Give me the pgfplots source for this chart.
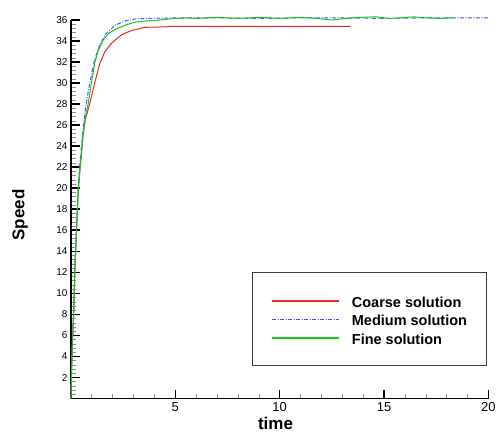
\documentclass[border=0pt]{standalone}
\usepackage{fontspec}
\setmainfont{Liberation Sans}
\usepackage{pgfplots}
\pgfplotsset{compat=1.18}
\definecolor{cred}{RGB}{235,40,40}
\definecolor{cblue}{RGB}{80,80,255}
\definecolor{cgreen}{RGB}{20,200,20}
\definecolor{lgframe}{RGB}{60,60,60}
\begin{document}
\begin{tikzpicture}
\begin{axis}[
  name=ax,
  scale only axis,
  width=418pt, height=379pt,
  xmin=0, xmax=20, ymin=0, ymax=36,
  axis lines=left,
  axis line style={line width=1.6pt,-},
  clip=false,
  tick align=inside,
  xtick={0,5,10,15,20}, xticklabels={,5,10,15,20},
  ytick={0,2,...,36},
  yticklabels={,2,4,6,8,10,12,14,16,18,20,22,24,26,28,30,32,34,36},
  minor x tick num=4, minor y tick num=4,
  major tick length=9pt, minor tick length=5pt,
  major tick style={line width=1.6pt,black},
  minor tick style={line width=0.6pt,black!45},
  /pgf/number format/assume math mode=true,
  xticklabel style={font=\fontsize{13}{13}\selectfont},
  yticklabel style={font=\fontsize{10}{10}\selectfont},
  xlabel={time}, ylabel={Speed},
  xlabel style={at={(axis description cs:0.49,-0.066)}, anchor=center, font=\fontsize{17}{17}\selectfont\bfseries},
  ylabel style={at={(axis description cs:-0.122,0.485)}, anchor=center, font=\fontsize{17}{17}\selectfont\bfseries},
  legend cell align=left,
  legend image code/.code={\draw[line width=1.2pt,#1] (0pt,-1pt) -- (67pt,-1pt);},
  legend style={at={(rel axis cs:0.995,0.335)}, anchor=north east,
    draw=lgframe, line width=0.8pt, inner xsep=19pt, inner ysep=18pt,
    row sep=-1.5pt, column sep=12pt,
    nodes={inner sep=0pt, text height=17pt, text depth=3pt, font=\fontsize{14.5}{14.5}\selectfont\bfseries}},
]
\addplot[cred, line width=1pt] coordinates {
(0,0) (0.03,2.5) (0.06,4.7) (0.14,8.5) (0.19,12.3) (0.27,16.0) (0.35,19.8)
(0.43,21.7) (0.50,23.2) (0.59,25.2) (0.70,26.6) (0.91,28.1) (1.15,30.1)
(1.39,31.9) (1.63,33.0) (1.95,33.8) (2.43,34.6) (2.90,35.0) (3.55,35.3)
(4.6,35.35) (4.7,35.4) (13.4,35.4)};
\addlegendentry{Coarse solution}
\addplot[cblue, line width=1pt, dash pattern=on 4pt off 1.5pt on 1pt off 1.5pt] coordinates {
(0,0) (0.03,3) (0.06,5) (0.14,9) (0.19,12.8) (0.27,16.6) (0.35,20.3)
(0.43,22.3) (0.50,23.9) (0.59,25.8) (0.70,27.6) (0.83,29.2) (1.07,31.7)
(1.31,33.3) (1.63,34.6) (2.11,35.5) (2.59,35.9) (3.07,36.1) (3.6,36.15)
(5,36.2) (7,36.2) (9,36.15) (11,36.2) (13,36.2) (15,36.15) (17,36.2) (20.05,36.2)};
\addlegendentry{Medium solution}
\addplot[cgreen, line width=1pt] coordinates {
(0,0) (0.03,2.5) (0.06,4.7) (0.14,8.5) (0.19,12.3) (0.27,16.0) (0.35,19.8)
(0.40,21.0) (0.43,21.7) (0.50,23.2) (0.59,25.2) (0.70,26.8) (0.83,28.1)
(0.99,30.1) (1.15,32.0) (1.31,33.1) (1.55,34.1) (1.79,34.7) (2.11,35.1)
(2.59,35.5) (3.07,35.8) (3.55,35.9) (4.0,35.95) (4.5,36.05) (5.0,36.15)
(5.5,36.2) (6.0,36.15) (6.5,36.2) (7.0,36.25) (7.5,36.2) (8.0,36.15)
(8.5,36.2) (9.0,36.25) (9.5,36.2) (10.0,36.15) (10.5,36.2) (11.0,36.25)
(11.5,36.2) (12.0,36.1) (12.5,36.0) (13.2,36.15) (13.8,36.25) (14.6,36.3)
(15.2,36.15) (15.8,36.2) (16.4,36.3) (17.0,36.2) (17.6,36.15) (18.3,36.2)};
\addlegendentry{Fine solution}
\end{axis}
\path ([xshift=-71pt,yshift=-37pt]ax.south west) rectangle ([xshift=10pt,yshift=20pt]ax.north east);
\end{tikzpicture}
\end{document}
